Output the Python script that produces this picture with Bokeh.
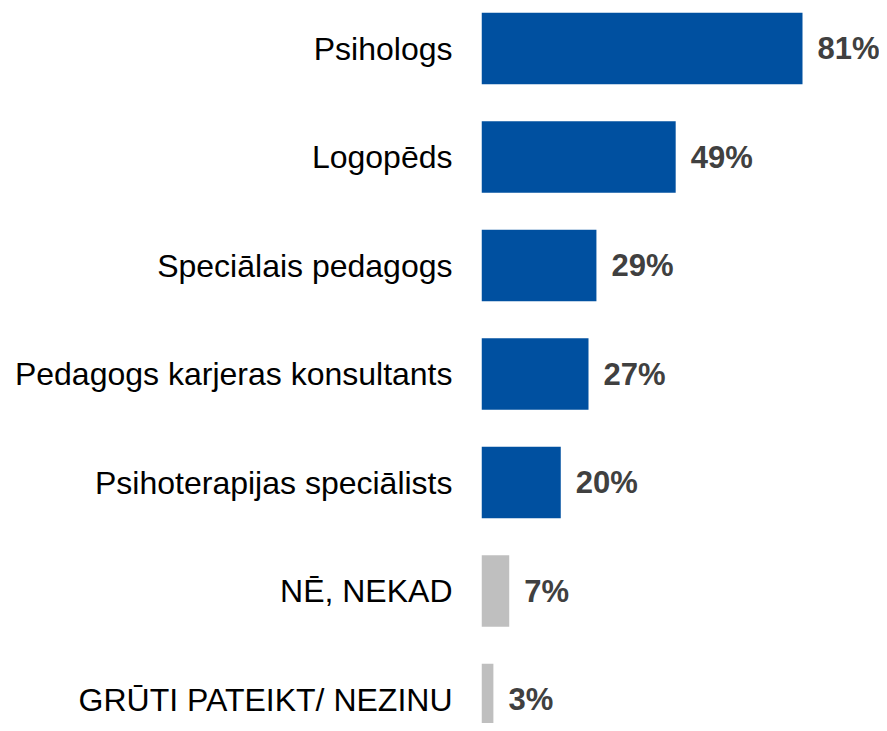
from bokeh.plotting import figure
from bokeh.models import Range1d, FixedTicker, ColumnDataSource
from bokeh.core.properties import value
from bokeh.embed import file_html
from bokeh.resources import INLINE

categories = ["Psihologs", "Logopēds", "Speciālais pedagogs", "Pedagogs karjeras konsultants",
              "Psihoterapijas speciālists", "NĒ, NEKAD", "GRŪTI PATEIKT/ NEZINU"]
values = [81, 49, 29, 27, 20, 7, 3]
labels = ["81%", "49%", "29%", "27%", "20%", "7%", "3%"]
colors = ["#0050A0"] * 5 + ["#BFBFBF"] * 2

pos = list(range(len(categories)))
src = ColumnDataSource(dict(y=pos, v=values, lab=labels, c=colors))

W, H = 879, 723
left = 481
px_per_unit = 108.5
top_val = -48 / px_per_unit
bot_val = top_val + H / px_per_unit
xmax = (W - left) / 3.963

p = figure(width=W, height=H, output_backend="svg", toolbar_location=None,
           x_range=Range1d(0, xmax), y_range=Range1d(bot_val, top_val),
           min_border_left=left, min_border_right=0, min_border_top=0, min_border_bottom=0)
p.hbar(y="y", right="v", left=0, height=0.66, color="c", source=src, line_color=None)
p.text(x="v", y="y", text="lab", source=src, x_offset=15, text_baseline="middle",
       text_align="left", text_font=value("Liberation Sans"), text_font_style="bold",
       text_font_size="31px", text_color="#404040")

p.xaxis.visible = False
p.yaxis.ticker = FixedTicker(ticks=pos)
p.yaxis.major_label_overrides = {i: c for i, c in enumerate(categories)}
p.yaxis.major_label_text_font = "Liberation Sans"
p.yaxis.major_label_text_font_size = "32px"
p.yaxis.major_label_text_color = "#000000"
p.yaxis.axis_line_color = None
p.yaxis.major_tick_line_color = None
p.yaxis.minor_tick_line_color = None
p.yaxis.major_tick_out = 0
p.yaxis.major_tick_in = 0
p.yaxis.major_label_standoff = 29
p.xgrid.visible = False
p.ygrid.visible = False
p.outline_line_color = None

open("out.html", "w").write(file_html(p, INLINE))
